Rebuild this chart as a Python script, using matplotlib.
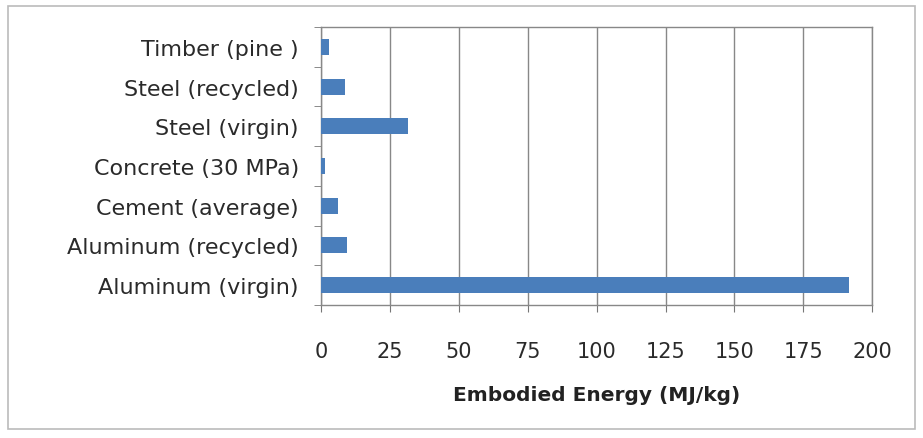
import numpy as np
import matplotlib.pyplot as plt
from matplotlib.patches import Rectangle

# materials, bottom to top as drawn
materials = ['Aluminum (virgin)', 'Aluminum (recycled)', 'Cement (average)',
             'Concrete (30 MPa)', 'Steel (virgin)', 'Steel (recycled)', 'Timber (pine )']
energy = [191.6, 9.5, 6.1, 1.4, 31.5, 8.8, 2.9]
xticks = [0, 25, 50, 75, 100, 125, 150, 175, 200]

plt.rcParams['font.family'] = ['DejaVu Sans']

fig = plt.figure(figsize=(9.23, 4.39), dpi=100)
ax = fig.add_axes([0.348, 0.303, 0.597, 0.633])

y = np.arange(len(materials))
ax.barh(y, energy, height=0.4, color='#4a7ebb', zorder=3)

ax.set_xlim(0, 200)
ax.set_ylim(-0.5, len(materials) - 0.5)
ax.set_xticks(xticks)
ax.set_xticklabels([str(t) for t in xticks], fontsize=15, color='#2a2a2a')
ax.set_yticks(y)
ax.set_yticklabels(materials, fontsize=16, color='#2a2a2a')
ax.set_yticks(np.arange(-0.5, len(materials)), minor=True)
ax.tick_params(axis='y', which='major', length=0, pad=16)
ax.tick_params(axis='y', which='minor', length=5, color='#777777', direction='out')
ax.tick_params(axis='x', length=5, color='#777777', pad=21)

ax.grid(axis='x', color='#888888', linewidth=1.0, zorder=0)
for s in ax.spines.values():
    s.set_color('#888888')
    s.set_linewidth(1.0)

ax.set_xlabel('Embodied Energy (MJ/kg)', fontsize=14.5, fontweight='bold',
              color='#222222', labelpad=17)

# outer chart border
fig.patches.append(Rectangle((0.009, 0.02), 0.982, 0.965, transform=fig.transFigure,
                             fill=False, edgecolor='#bbbbbb', linewidth=1.2))

fig.savefig('out.png', dpi=100)
